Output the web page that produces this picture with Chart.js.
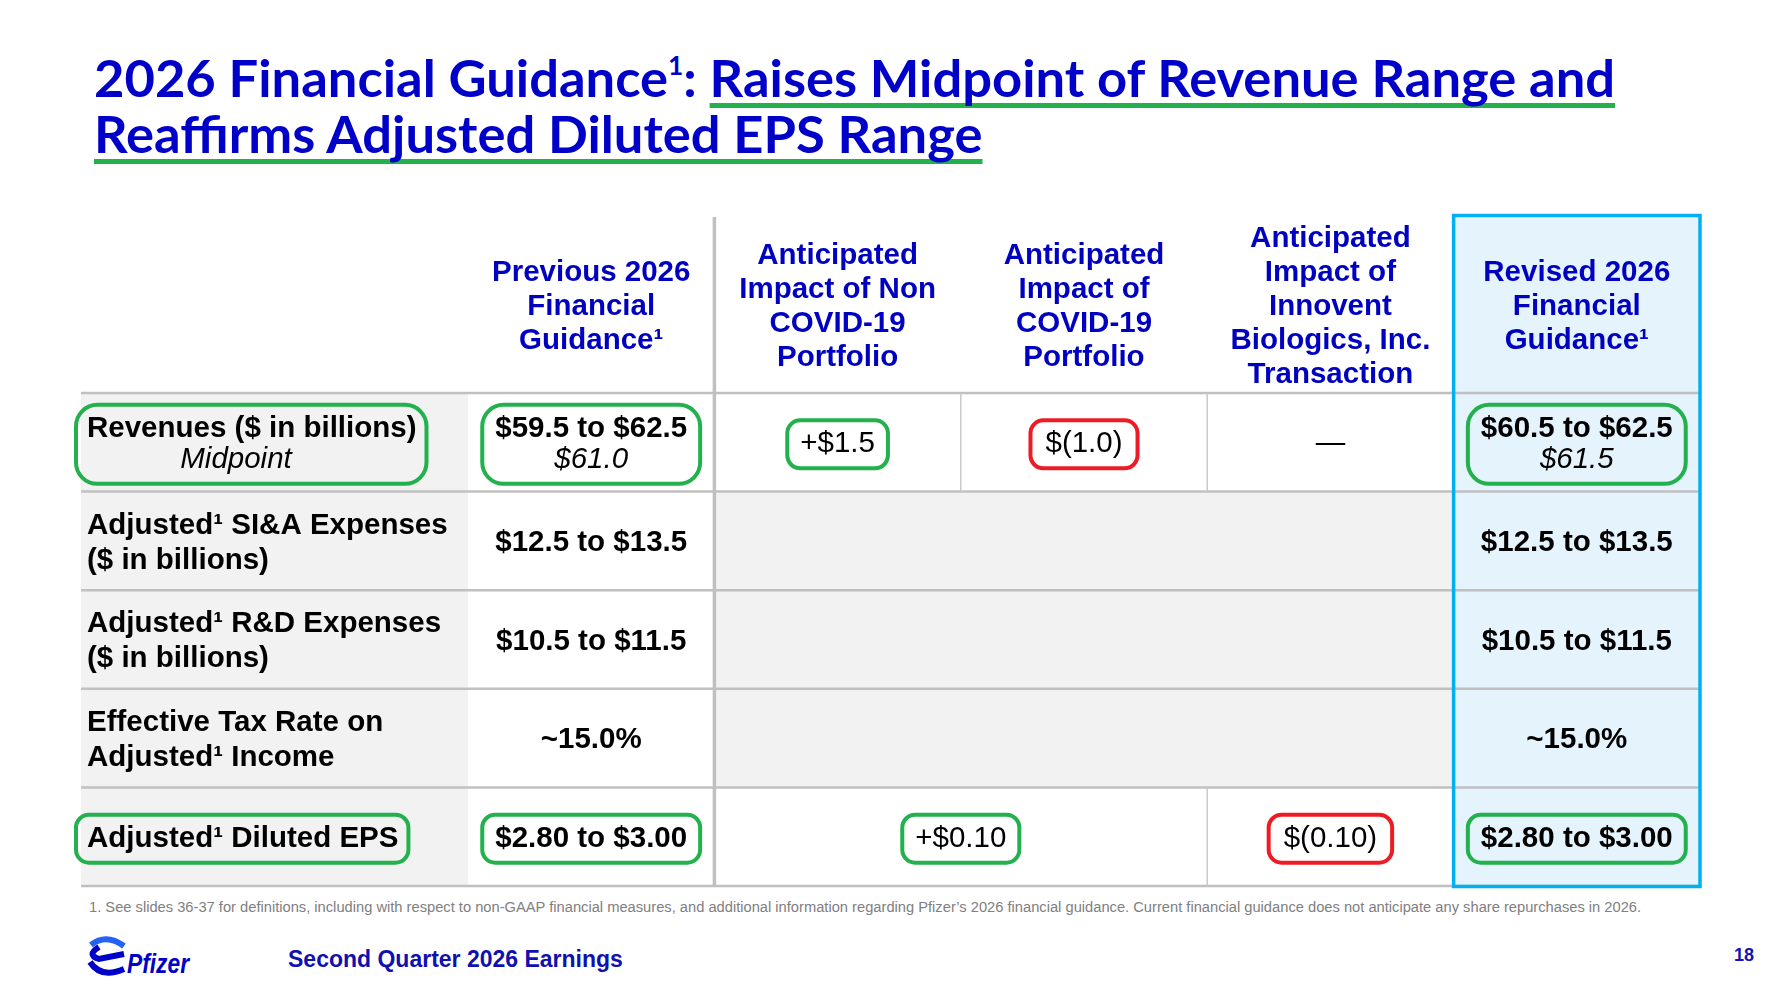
<!DOCTYPE html>
<html>
<head>
<meta charset="utf-8">
<script src="https://cdn.jsdelivr.net/npm/chart.js@4.4.1/dist/chart.umd.min.js"></script>
<style>
html, body { margin: 0; padding: 0; background: #fff; }
#page { position: relative; width: 1784px; height: 1000px; overflow: hidden; background: #fff; }
#title { position: absolute; left: 94px; top: 49px; font: 700 52.5px Lato, sans-serif; color: #0000C8; line-height: 56px; white-space: nowrap; }
#title u { text-decoration: underline; text-decoration-color: #22B14C; text-decoration-thickness: 5px; text-underline-offset: 6px; text-decoration-skip-ink: none; }
#title sup { font-size: 0.5em; line-height: 0; vertical-align: 0.85em; }
#chartBox { position: absolute; left: 70px; top: 205px; width: 1645px; height: 690px; }
#note { position: absolute; left: 89px; top: 899px; font: 14.7px "Liberation Sans", Arial, sans-serif; color: #808080; white-space: nowrap; }
#footer { position: absolute; left: 288px; top: 946px; font: 700 23px "Liberation Sans", Arial, sans-serif; color: #1010B0; white-space: nowrap; }
#pageNum { position: absolute; left: 1734px; top: 945px; font: 700 18px "Liberation Sans", Arial, sans-serif; color: #1414B4; }
#logo { position: absolute; left: 84px; top: 932px; }
</style>
</head>
<body>
<div id="page">
  <div id="title">2026 Financial Guidance<sup>1</sup>: <u>Raises Midpoint of Revenue Range and</u><br><u>Reaffirms Adjusted Diluted EPS Range</u></div>
  <div id="chartBox"><canvas id="guidanceTable" width="1645" height="690"></canvas></div>
  <div id="note">1. See slides 36-37 for definitions, including with respect to non-GAAP financial measures, and additional information regarding Pfizer’s 2026 financial guidance. Current financial guidance does not anticipate any share repurchases in 2026.</div>
  <svg id="logo" width="112" height="50" viewBox="0 0 112 50">
    <path d="M7 13 Q 22 1 40 14" stroke="#2463F2" stroke-width="6" fill="none"/>
    <path d="M15 15 Q 2 23 15 27 L 40 22" stroke="#0000C9" stroke-width="6" fill="none"/>
    <path d="M6 30 Q 17 47 40 37" stroke="#0000C9" stroke-width="6" fill="none"/>
    <text x="43" y="41" font-family="Liberation Sans, Arial, sans-serif" font-weight="700" font-style="italic" font-size="27" fill="#0000C9" textLength="62" lengthAdjust="spacingAndGlyphs">Pfizer</text>
  </svg>
  <div id="footer">Second Quarter 2026 Earnings</div>
  <div id="pageNum">18</div>
</div>
<script>
// table content
const columnKeys = ['prev', 'nonCovid', 'covid', 'innovent', 'revised'];
const columnHeaders = [
  ['Previous 2026', 'Financial', 'Guidance¹'],
  ['Anticipated', 'Impact of Non', 'COVID-19', 'Portfolio'],
  ['Anticipated', 'Impact of', 'COVID-19', 'Portfolio'],
  ['Anticipated', 'Impact of', 'Innovent', 'Biologics, Inc.', 'Transaction'],
  ['Revised 2026', 'Financial', 'Guidance¹']
];
const rowLabels = [
  ['Revenues ($ in billions)'],
  ['Adjusted¹ SI&A Expenses', '($ in billions)'],
  ['Adjusted¹ R&D Expenses', '($ in billions)'],
  ['Effective Tax Rate on', 'Adjusted¹ Income'],
  ['Adjusted¹ Diluted EPS']
];
const rowLabelNotes = ['Midpoint', null, null, null, null];
const previousGuidance = ['$59.5 to $62.5', '$12.5 to $13.5', '$10.5 to $11.5', '~15.0%', '$2.80 to $3.00'];
const previousMidpoint = ['$61.0', null, null, null, null];
const nonCovidImpact = ['+$1.5', null, null, null, null];
const covidImpact = ['$(1.0)', null, null, null, null];
const portfolioImpact = [null, null, null, null, '+$0.10'];   // spans both portfolio columns
const innoventImpact = ['—', null, null, null, '$(0.10)'];
const revisedGuidance = ['$60.5 to $62.5', '$12.5 to $13.5', '$10.5 to $11.5', '~15.0%', '$2.80 to $3.00'];
const revisedMidpoint = ['$61.5', null, null, null, null];
const greenRings = [['label', 0], ['prev', 0], ['nonCovid', 0], ['revised', 0],
                    ['label', 4], ['prev', 4], ['portfolio', 4], ['revised', 4]];
const redRings = [['covid', 0], ['innovent', 4]];

const GRAY = '#F2F2F2';
const LIGHT_BLUE = '#E5F3FD';
const FRAME_BLUE = '#00B0F0';
const HEAD_BLUE = '#0000C0';
const RULE = '#C0C0C0';
const FONT = '"Liberation Sans", Arial, sans-serif';
const BOLD = '700 29.5px ' + FONT;
const PLAIN = '400 29.5px ' + FONT;
const ITALIC = 'italic 400 29.5px ' + FONT;

const noImpact = r => [nonCovidImpact, covidImpact, portfolioImpact, innoventImpact].every(a => a[r] == null);

function cellEdges(x, i) {
  const w = (x.right - x.left) / columnKeys.length;
  const c = x.getPixelForValue(i);
  return { left: c - w / 2, right: c + w / 2, center: c };
}

function textBlock(ctx, lines, x, cy, gap) {
  const n = lines.length;
  let left = Infinity, right = -Infinity;
  lines.forEach((ln, i) => {
    ctx.font = ln.font;
    ctx.textAlign = ln.align || 'center';
    const lx = ln.x != null ? ln.x : x;
    const ly = cy + (i - (n - 1) / 2) * gap;
    ctx.fillText(ln.text, lx, ly);
    const w = ctx.measureText(ln.text).width;
    const l = ctx.textAlign === 'center' ? lx - w / 2 : lx;
    left = Math.min(left, l);
    right = Math.max(right, l + w);
  });
  return { left, right, cy, lines: n };
}

function ring(ctx, b, color, padL, padR) {
  const h = b.lines > 1 ? 79 : 48;
  const l = b.left - padL, r = b.right + padR;
  ctx.beginPath();
  ctx.roundRect(l, b.cy - h / 2, r - l, h, h * 0.27);
  ctx.lineWidth = 4;
  ctx.strokeStyle = color;
  ctx.stroke();
}

const tablePlugin = {
  id: 'guidanceTable',
  beforeDatasetsDraw(chart) {
    const { ctx, chartArea, scales: { x, y } } = chart;
    ctx.save();
    ctx.fillStyle = GRAY;
    ctx.fillRect(y.left, chartArea.top, y.right - y.left, chartArea.bottom - chartArea.top);
    const rc = cellEdges(x, 4);
    ctx.fillStyle = LIGHT_BLUE;
    ctx.fillRect(rc.left, x.top, rc.right - rc.left, chartArea.top - x.top);
    ctx.restore();
  },
  afterDatasetsDraw(chart) {
    const { ctx, chartArea, scales: { x, y } } = chart;
    ctx.save();

    // horizontal rules
    ctx.strokeStyle = RULE;
    ctx.lineWidth = 2.5;
    for (let r = 0; r <= rowLabels.length; r++) {
      const py = y.getPixelForValue(r);
      ctx.beginPath();
      ctx.moveTo(y.left, py);
      ctx.lineTo(chartArea.right, py);
      ctx.stroke();
    }

    // thin rules between impact cells
    ctx.strokeStyle = '#C8C8C8';
    ctx.lineWidth = 1.5;
    rowLabels.forEach((_, r) => {
      if (noImpact(r)) return;
      const top = y.getPixelForValue(r), bottom = y.getPixelForValue(r + 1);
      const seams = portfolioImpact[r] == null ? [2, 3] : [3];
      seams.forEach(c => {
        const px = cellEdges(x, c).left;
        ctx.beginPath();
        ctx.moveTo(px, top);
        ctx.lineTo(px, bottom);
        ctx.stroke();
      });
    });

    // separator after previous guidance
    ctx.strokeStyle = RULE;
    ctx.lineWidth = 3.5;
    const sep = cellEdges(x, 1).left;
    ctx.beginPath();
    ctx.moveTo(sep, x.top + 3);
    ctx.lineTo(sep, chartArea.bottom);
    ctx.stroke();

    // revised column frame
    const rc = cellEdges(x, 4);
    ctx.strokeStyle = FRAME_BLUE;
    ctx.lineWidth = 3.5;
    ctx.strokeRect(rc.left, x.top + 1.5, rc.right - rc.left, chartArea.bottom - x.top - 1);

    ctx.textBaseline = 'middle';

    // headers
    ctx.fillStyle = HEAD_BLUE;
    const headMid = (x.top + x.bottom) / 2 + 3.5;
    columnHeaders.forEach((lines, i) => {
      textBlock(ctx, lines.map(t => ({ text: t, font: BOLD })), x.getPixelForValue(i), headMid, 34);
    });

    // body
    ctx.fillStyle = '#000';
    const bounds = {};
    const keep = (key, r, b) => { bounds[key + r] = b; };
    rowLabels.forEach((label, r) => {
      const cy = (y.getPixelForValue(r) + y.getPixelForValue(r + 1)) / 2 + 2;
      const lx = y.left + 6;
      const lab = label.map(t => ({ text: t, font: BOLD, align: 'left', x: lx }));
      if (rowLabelNotes[r]) lab.push({ text: rowLabelNotes[r], font: ITALIC, align: 'center', x: y.left + 155 });
      keep('label', r, textBlock(ctx, lab, lx, cy, lab.length > 1 && rowLabelNotes[r] ? 31 : 35));

      const valueCell = (key, col, main, mid) => {
        const lines = [{ text: main, font: BOLD }];
        if (mid) lines.push({ text: mid, font: ITALIC });
        keep(key, r, textBlock(ctx, lines, x.getPixelForValue(col), cy, 31));
      };
      valueCell('prev', 0, previousGuidance[r], previousMidpoint[r]);
      valueCell('revised', 4, revisedGuidance[r], revisedMidpoint[r]);

      const impactCell = (key, cx, text) => {
        if (text == null) return;
        keep(key, r, textBlock(ctx, [{ text, font: PLAIN }], cx, cy, 31));
      };
      impactCell('nonCovid', x.getPixelForValue(1), nonCovidImpact[r]);
      impactCell('covid', x.getPixelForValue(2), covidImpact[r]);
      impactCell('portfolio', (x.getPixelForValue(1) + x.getPixelForValue(2)) / 2, portfolioImpact[r]);
      impactCell('innovent', x.getPixelForValue(3), innoventImpact[r]);
    });

    greenRings.forEach(([k, r]) => ring(ctx, bounds[k + r], '#22B14C', k === 'label' ? 11 : 13, k === 'label' ? 10 : 13));
    redRings.forEach(([k, r]) => ring(ctx, bounds[k + r], '#ED1C24', 15, 15));

    ctx.restore();
  }
};

const cellDatasets = rowLabels.map((_, r) => ({
  data: columnKeys.map(() => [r, r + 1]),
  backgroundColor: columnKeys.map((k, c) => c === 4 ? LIGHT_BLUE : (c >= 1 && noImpact(r) ? GRAY : '#FFFFFF')),
  borderWidth: 0,
  grouped: false,
  barPercentage: 1,
  categoryPercentage: 1
}));

new Chart(document.getElementById('guidanceTable'), {
  type: 'bar',
  data: { labels: columnKeys, datasets: cellDatasets },
  options: {
    responsive: false,
    animation: false,
    events: [],
    layout: { padding: { left: 11, top: 9, right: 15, bottom: 9 } },
    plugins: { legend: { display: false }, tooltip: { enabled: false } },
    scales: {
      x: {
        type: 'category',
        position: 'top',
        offset: true,
        grid: { display: false },
        border: { display: false },
        ticks: { display: false },
        afterFit: s => { s.height = 179; }
      },
      y: {
        type: 'linear',
        min: 0,
        max: 5,
        reverse: true,
        grid: { display: false },
        border: { display: false },
        ticks: { display: false },
        afterFit: s => { s.width = 387; }
      }
    }
  },
  plugins: [tablePlugin]
});
</script>
</body>
</html>
